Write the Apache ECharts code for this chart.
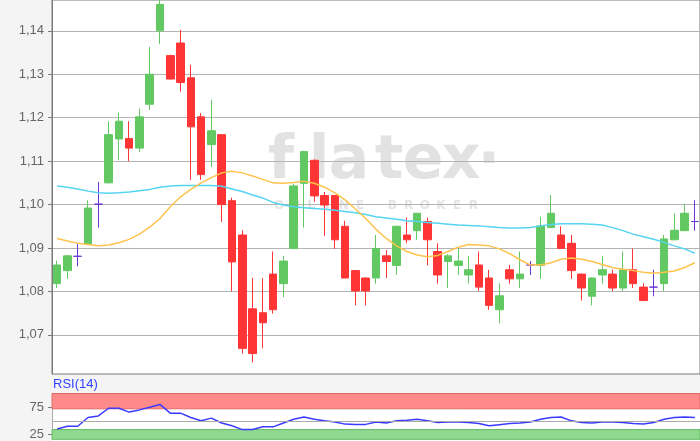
<!DOCTYPE html>
<html><head><meta charset="utf-8">
<script src="https://cdn.jsdelivr.net/npm/echarts@6/dist/echarts.min.js"></script>
<style>html,body{margin:0;padding:0;background:#f4f4f4}#c{width:700px;height:441px}</style>
</head><body><div id="c"></div>
<script>
const categories = ['1','2','3','4','5','6','7','8','9','10','11','12','13','14','15','16','17','18','19','20','21','22','23','24','25','26','27','28','29','30','31','32','33','34','35','36','37','38','39','40','41','42','43','44','45','46','47','48','49','50','51','52','53','54','55','56','57','58','59','60','61','62','63'];
const opens  = [1.0818,1.0848,1.0881,1.0909,1.1001,1.1050,1.1151,1.1152,1.1130,1.1231,1.1400,1.1343,1.1372,1.1292,1.1202,1.1138,1.1161,1.1009,1.0930,1.0760,1.0751,1.0840,1.0818,1.0899,1.1049,1.1102,1.1021,1.1021,1.0950,1.0848,1.0831,1.0831,1.0882,1.0860,1.0930,1.0940,1.0961,1.0892,1.0869,1.0860,1.0838,1.0861,1.0831,1.0758,1.0850,1.0829,1.0861,1.0860,1.0947,1.0930,1.0911,1.0840,1.0789,1.0838,1.0840,1.0808,1.0850,1.0810,1.0810,1.0818,1.0919,1.0940,1.0961];
const closes = [1.0861,1.0882,1.0881,1.0992,1.1001,1.1161,1.1192,1.1130,1.1202,1.1300,1.1461,1.1289,1.1281,1.1179,1.1069,1.1170,1.1000,1.0868,1.0669,1.0657,1.0728,1.0758,1.0870,1.1043,1.1122,1.1020,1.0999,1.0919,1.0831,1.0801,1.0801,1.0899,1.0869,1.0950,1.0919,1.0980,1.0919,1.0838,1.0882,1.0870,1.0850,1.0810,1.0768,1.0790,1.0829,1.0840,1.0861,1.0951,1.0980,1.0899,1.0848,1.0808,1.0831,1.0850,1.0808,1.0850,1.0818,1.0779,1.0810,1.0921,1.0941,1.0980,1.0961];
const lows   = [1.0808,1.0829,1.0858,1.0908,1.0947,1.1049,1.1102,1.1100,1.1121,1.1218,1.1370,1.1288,1.1260,1.1057,1.1057,1.1087,1.0960,1.0800,1.0657,1.0637,1.0669,1.0749,1.0787,1.0899,1.0947,1.1006,1.0928,1.0898,1.0831,1.0768,1.0768,1.0818,1.0831,1.0838,1.0911,1.0919,1.0860,1.0818,1.0808,1.0838,1.0818,1.0801,1.0758,1.0727,1.0818,1.0808,1.0838,1.0829,1.0946,1.0899,1.0829,1.0779,1.0768,1.0818,1.0801,1.0801,1.0808,1.0778,1.0789,1.0801,1.0918,1.0939,1.0940];
const highs  = [1.0871,1.0884,1.0909,1.1010,1.1052,1.1192,1.1212,1.1192,1.1221,1.1363,1.1480,1.1345,1.1402,1.1322,1.1211,1.1241,1.1161,1.1016,1.0941,1.0831,1.0831,1.0892,1.0882,1.1048,1.1124,1.1104,1.1029,1.1022,1.0963,1.0849,1.0832,1.0930,1.0895,1.0952,1.0970,1.0981,1.0970,1.0911,1.0886,1.0898,1.0882,1.0892,1.0850,1.0819,1.0861,1.0892,1.0870,1.0972,1.1022,1.0950,1.0930,1.0841,1.0832,1.0882,1.0850,1.0892,1.0899,1.0819,1.0850,1.0930,1.0980,1.1001,1.1010];
const maLong  = [1.1043,1.1040,1.1036,1.1031,1.1027,1.1026,1.1027,1.1029,1.1032,1.1035,1.1040,1.1043,1.1044,1.1044,1.1044,1.1044,1.1042,1.1036,1.1030,1.1022,1.1015,1.1005,1.0999,1.0995,1.0993,1.0991,1.0989,1.0987,1.0984,1.0981,1.0977,1.0972,1.0969,1.0966,1.0963,1.0961,1.0959,1.0957,1.0955,1.0953,1.0952,1.0951,1.0949,1.0947,1.0946,1.0946,1.0947,1.0951,1.0954,1.0956,1.0956,1.0956,1.0955,1.0953,1.0947,1.0940,1.0932,1.0926,1.0920,1.0913,1.0905,1.0898,1.0888];
const maShort = [1.0922,1.0916,1.0911,1.0908,1.0905,1.0907,1.0912,1.0920,1.0932,1.0948,1.0968,1.0995,1.1018,1.1035,1.1050,1.1062,1.1073,1.1077,1.1073,1.1066,1.1058,1.1050,1.1049,1.1051,1.1054,1.1049,1.1040,1.1027,1.1011,1.0990,1.0968,1.0943,1.0922,1.0905,1.0892,1.0884,1.0880,1.0883,1.0892,1.0902,1.0908,1.0907,1.0905,1.0898,1.0887,1.0873,1.0861,1.0861,1.0866,1.0874,1.0877,1.0874,1.0869,1.0862,1.0855,1.0851,1.0848,1.0844,1.0842,1.0844,1.0847,1.0855,1.0866];
const rsi14 = [35,40,40,56,59,73,73,66,70,75,80,64,64,56,50,55,46,41,34,34,39,39,46,53,57,53,50,48,44,43.5,43.5,48,46,50,51,53,50,47,48,48,47,45,41,43,45,46,48,53,56,57,50,47,46,48,48,47,45,44,47,53,56,57,56];
const priceTicks = [1.07,1.08,1.09,1.10,1.11,1.12,1.13,1.14];
const rsiTicks = [25,75];
const rsiUpperBand = [72,100];
const rsiLowerBand = [0,34];
const rsiMid = 50;

const UP = '#62c962', DOWN = '#ff3535', DOJI = '#6a35d9';
const candleData = opens.map((o, i) => {
  const item = { value: [o, closes[i], lows[i], highs[i]] };
  if (o === closes[i]) item.itemStyle = { color: DOJI, color0: DOJI, borderColor: DOJI, borderColor0: DOJI };
  return item;
});

const graphics = [
  { type: 'rect', z: -10, shape: { x: 52, y: 0, width: 648, height: 374 }, style: { fill: '#ffffff' }, silent: true },
  { type: 'rect', z: -10, shape: { x: 52, y: 393, width: 648, height: 48 }, style: { fill: '#ffffff' }, silent: true },
  { type: 'text', left: 53, top: 378, z: 5, style: { text: 'RSI(14)', fill: '#3344ff', font: '13px "Liberation Sans", Arial, sans-serif' } }
];
const wmLetters = [['f',281],['l',319],['a',349],['t',389],['e',423],['x',461],['·',489]];
wmLetters.forEach(([ch, x]) => graphics.push({
  type: 'text', z: -5, silent: true, x: x, y: 162,
  style: { text: ch, fill: '#e2e2e2', font: 'bold 60px "DejaVu Sans", sans-serif', align: 'center', verticalAlign: 'middle' }
}));
const sub = 'ONLINE BROKER';
for (let k = 0; k < sub.length; k++) {
  if (sub[k] === ' ') continue;
  graphics.push({ type: 'text', z: -5, silent: true, x: 279 + k * 16.2, y: 206,
    style: { text: sub[k], fill: '#e4e4e4', font: 'bold 12px "DejaVu Sans", sans-serif', align: 'center', verticalAlign: 'middle' } });
}

const chart = echarts.init(document.getElementById('c'), null, { renderer: 'canvas' });
chart.setOption({
  animation: false,
  backgroundColor: '#f4f4f4',
  graphic: graphics,
  grid: [
    { left: 52, right: 0, top: -2, height: 376, show: true, backgroundColor: 'transparent', borderColor: '#7a7a7a', borderWidth: 1 },
    { left: 52, right: 0, top: 393.5, height: 47.5, show: false }
  ],
  xAxis: [
    { type: 'category', gridIndex: 0, data: categories, boundaryGap: true, axisLine: { show: false }, axisTick: { show: false }, axisLabel: { show: false }, splitLine: { show: false } },
    { type: 'category', gridIndex: 1, data: categories, boundaryGap: true, axisLine: { show: false }, axisTick: { show: false }, axisLabel: { show: false }, splitLine: { show: false } }
  ],
  yAxis: [
    { type: 'value', gridIndex: 0, min: 1.0610, max: 1.1471, splitNumber: 9, scale: true,
      axisLine: { show: true, lineStyle: { color: '#7a7a7a' } },
      axisTick: { show: true, length: 4, customValues: priceTicks, lineStyle: { color: '#7a7a7a' } },
      axisLabel: { customValues: priceTicks, margin: 8, color: '#666', fontSize: 13, fontFamily: '"Liberation Sans", Arial, sans-serif',
        formatter: v => v.toFixed(2).replace('.', ',') },
      splitLine: { show: true, lineStyle: { color: '#b4b4b4', width: 1 } } },
    { type: 'value', gridIndex: 1, min: 16.2, max: 100,
      axisLine: { show: true, lineStyle: { color: '#aaaaaa' } },
      axisTick: { show: true, length: 4, customValues: rsiTicks, lineStyle: { color: '#7a7a7a' } },
      axisLabel: { customValues: rsiTicks, margin: 8, color: '#666', fontSize: 13, fontFamily: '"Liberation Sans", Arial, sans-serif' },
      splitLine: { show: false } }
  ],
  series: [
    { type: 'candlestick', xAxisIndex: 0, yAxisIndex: 0, data: candleData, barWidth: 8, z: 3,
      itemStyle: { color: UP, color0: DOWN, borderColor: UP, borderColor0: DOWN, borderWidth: 1 } },
    { type: 'line', xAxisIndex: 0, yAxisIndex: 0, data: maLong, showSymbol: false, z: 4,
      lineStyle: { color: '#55d4f3', width: 1.5 } },
    { type: 'line', xAxisIndex: 0, yAxisIndex: 0, data: maShort, showSymbol: false, z: 4,
      lineStyle: { color: '#ffc34d', width: 1.5 } },
    { type: 'line', xAxisIndex: 1, yAxisIndex: 1, data: rsi14, showSymbol: false, z: 4,
      lineStyle: { color: '#3b3bff', width: 1.5 },
      markArea: { silent: true, data: [
        [{ yAxis: rsiUpperBand[0], itemStyle: { color: '#ff8a8a', borderColor: '#e06a6a', borderWidth: 1 } }, { yAxis: rsiUpperBand[1] }],
        [{ yAxis: rsiLowerBand[0], itemStyle: { color: '#8fd88f', borderColor: '#66bb66', borderWidth: 1 } }, { yAxis: rsiLowerBand[1] }]
      ] },
      markLine: { silent: true, symbol: 'none', label: { show: false }, lineStyle: { color: '#aaaaaa', type: 'solid', width: 1 },
        data: [{ yAxis: rsiMid }] } }
  ]
});
</script></body></html>
